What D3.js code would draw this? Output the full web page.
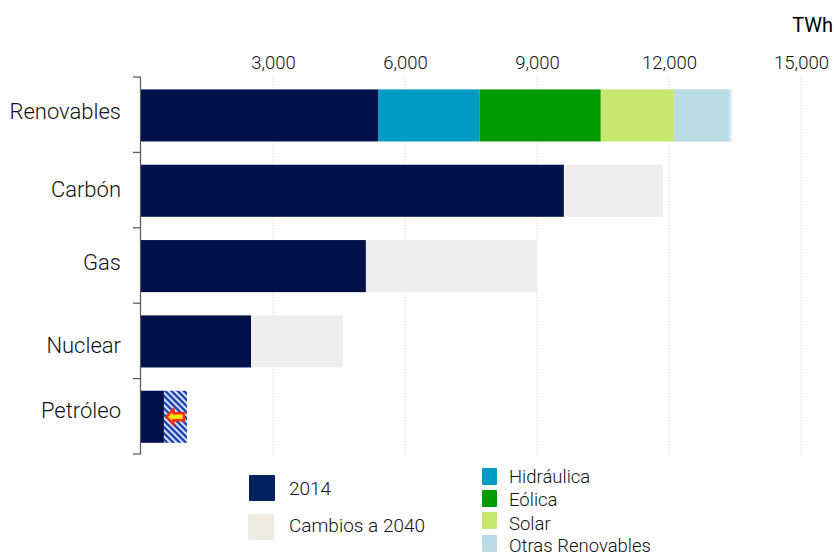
<!DOCTYPE html>
<html>
<head>
<meta charset="utf-8">
<script src="https://cdn.jsdelivr.net/npm/d3@7"></script>
<style>
html,body{margin:0;padding:0;background:#fff}
svg{display:block}
text{font-family:Roboto,"Noto Sans",sans-serif;font-weight:300;fill:#111}
</style>
</head>
<body>
<svg id="chart" width="834" height="554"></svg>
<script>
// Generación eléctrica por fuente, TWh
const categories = ["Renovables", "Carbón", "Gas", "Nuclear", "Petróleo"];
const base2014 = [5390, 9610, 5110, 2500, 520];
const total2040 = [null, 11860, 9000, 4590, 1045];
const renewableNames = ["Hidráulica", "Eólica", "Solar", "Otras Renovables"];
const renewableEnds = [7700, 10450, 12110, 13360];
const renewableColors = ["#009cc3", "#009b00", "#c6e76e", "#b9dbe3"];
const renewableEdge = 13420;
const xTicks = [3000, 6000, 9000, 12000, 15000];
const legendNames = ["2014", "Cambios a 2040"];
const legendColors = ["#00205f", "#eeece2"];

const svg = d3.select("#chart");
const x = d3.scaleLinear().domain([0, 15000]).range([141, 801]);
const y = d3.scaleBand().domain(categories).range([77.8, 454.4]).paddingInner(0.309).paddingOuter(0.154);

const defs = svg.append("defs");
const hatch = defs.append("pattern").attr("id", "hatch").attr("patternUnits", "userSpaceOnUse")
  .attr("width", 4.4).attr("height", 4.4).attr("patternTransform", "rotate(45)");
hatch.append("rect").attr("width", 4.4).attr("height", 4.4).attr("fill", "#dfe6f6");
hatch.append("rect").attr("width", 4.4).attr("height", 2.4).attr("fill", "#1a40b4");

// Líneas de guía verticales
svg.append("g").selectAll("line").data(xTicks).join("line")
  .attr("x1", d => x(d)).attr("x2", d => x(d)).attr("y1", 78).attr("y2", 455)
  .attr("stroke", "#ddd").attr("stroke-width", 1).attr("stroke-dasharray", "1.5 1.5");

// Eje superior
const topAxis = svg.append("g").attr("transform", "translate(0,69)")
  .call(d3.axisTop(x).tickValues(xTicks).tickFormat(d3.format(",")).tickSize(0).tickPadding(0));
topAxis.select(".domain").remove();
topAxis.selectAll("text").attr("font-size", 18.5).style("fill", "#111").style("font-family", "Roboto").style("font-weight", 300);

svg.append("text").attr("x", 833).attr("y", 32).attr("text-anchor", "end")
  .attr("font-size", 20).style("font-weight", 400).style("fill", "#000").text("TWh");

// Incremento previsto hasta 2040
const rows = categories.map((c, i) => ({c, start: base2014[i], end: total2040[i]}));
svg.append("g").selectAll("rect").data(rows.filter(d => d.end !== null)).join("rect")
  .attr("x", d => x(d.start)).attr("width", d => x(d.end) - x(d.start))
  .attr("y", d => y(d.c)).attr("height", y.bandwidth())
  .attr("fill", d => d.c === "Petróleo" ? "url(#hatch)" : "#eeeeee");

// Desglose de renovables
const r = categories[0];
svg.append("rect").attr("x", x(renewableEnds[2])).attr("width", x(renewableEdge) - x(renewableEnds[2]))
  .attr("y", y(r)).attr("height", y.bandwidth()).attr("fill", "#cfe8fb");
svg.append("g").selectAll("rect").data(renewableEnds).join("rect")
  .attr("x", (d, i) => x(i ? renewableEnds[i - 1] : base2014[0]))
  .attr("width", (d, i) => x(d) - x(i ? renewableEnds[i - 1] : base2014[0]))
  .attr("y", y(r)).attr("height", y.bandwidth())
  .attr("fill", (d, i) => renewableColors[i]);

// Barras de 2014
svg.append("g").selectAll("rect").data(rows).join("rect")
  .attr("x", x(0)).attr("width", d => x(d.start) - x(0))
  .attr("y", d => y(d.c)).attr("height", y.bandwidth())
  .attr("fill", "#001049");

// Flecha sobre la barra de petróleo
const oil = rows[4];
const ax = (x(oil.start) + x(oil.end)) / 2, ay = y(oil.c) + y.bandwidth() / 2;
svg.append("path")
  .attr("d", "M-9,0 L-2,-7.5 L-2,-3.5 L8.5,-3.5 L8.5,3.5 L-2,3.5 L-2,7.5 Z")
  .attr("transform", `translate(${ax},${ay})`)
  .attr("fill", "#ffe000").attr("stroke", "#ff2a10").attr("stroke-width", 2.4);

// Eje de categorías
const bounds = [0, 1, 2, 3, 4, 5].map(i => 77 + i * 75.4);
svg.append("line").attr("x1", 140.5).attr("x2", 140.5).attr("y1", 77).attr("y2", 454)
  .attr("stroke", "#555").attr("stroke-width", 1.2);
svg.append("g").selectAll("line").data(bounds).join("line")
  .attr("x1", 133).attr("x2", 141).attr("y1", d => d).attr("y2", d => d)
  .attr("stroke", "#555").attr("stroke-width", 1.2);

const labelYs = {"Renovables": 119, "Carbón": 197, "Gas": 270, "Nuclear": 353, "Petróleo": 418};
svg.append("g").selectAll("text").data(categories).join("text")
  .attr("x", 121).attr("y", d => labelYs[d]).attr("text-anchor", "end")
  .attr("font-size", 22).text(d => d);

// Leyendas
const leg = svg.append("g").selectAll("g").data(legendNames).join("g");
leg.append("rect").attr("x", (d, i) => i ? 248 : 249).attr("y", (d, i) => i ? 514 : 475)
  .attr("width", 26).attr("height", 26).attr("rx", 1)
  .attr("fill", (d, i) => legendColors[i]);
leg.append("text").attr("x", 289).attr("y", (d, i) => i ? 532 : 495)
  .attr("font-size", 19).text(d => d);

const leg2 = svg.append("g").selectAll("g").data(renewableNames).join("g");
leg2.append("rect").attr("x", 482).attr("y", (d, i) => [468, 490, 512, 535][i])
  .attr("width", 15).attr("height", 17).attr("rx", 1)
  .attr("fill", (d, i) => renewableColors[i]);
leg2.append("text").attr("x", 509).attr("y", (d, i) => [483, 506, 530, 552][i])
  .attr("font-size", 18.5).text(d => d);
</script>
</body>
</html>
